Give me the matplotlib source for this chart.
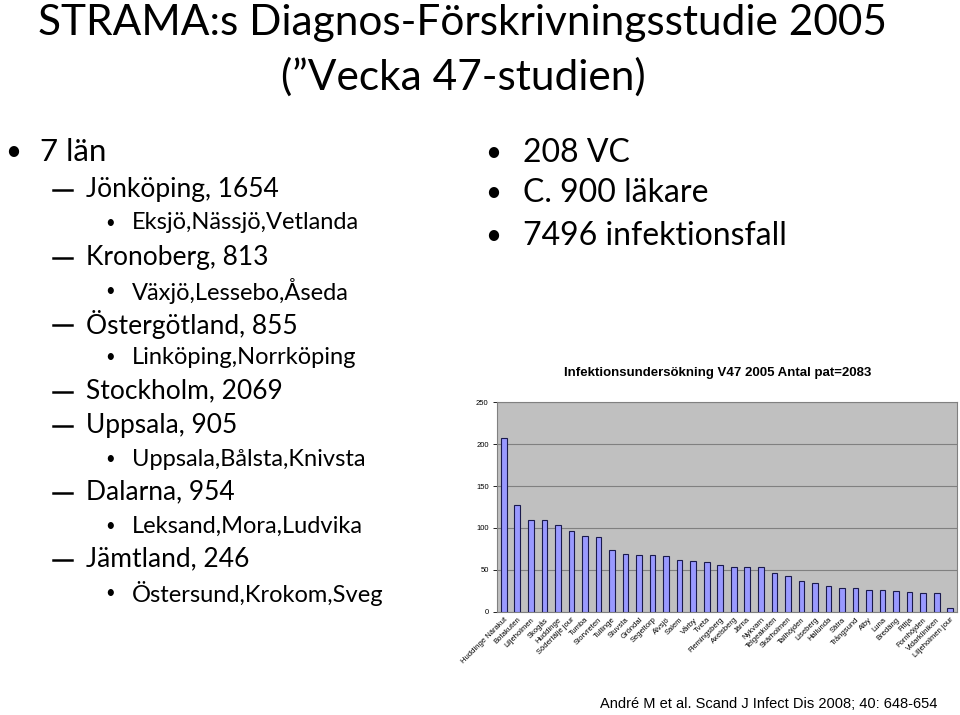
import matplotlib
matplotlib.use("Agg")
import matplotlib.pyplot as plt
from matplotlib.lines import Line2D

categories = ["Huddinge Närakut", "Botakuten", "Liljeholmen", "Skogås", "Huddinge",
              "Södertälje jour", "Tumba", "Storvreten", "Tullinge", "Stuvsta", "Gröndal",
              "Segeltorp", "Älvsjö", "Salem", "Vårby", "Tveta", "Flemingsberg", "Axelsberg",
              "Järna", "Nykvarn", "Telgeakuten", "Skärholmen", "Tallhöjden", "Liseberg",
              "Hallunda", "Sätra", "Trångsund", "Alby", "Luna", "Bredäng", "Fittja",
              "Fornhöjden", "Vidarkliniken", "Liljeholmen jour"]
values = [207, 127, 110, 109, 104, 97, 91, 89, 74, 69, 68, 68, 67, 62, 61, 59, 56, 54,
          54, 54, 47, 43, 37, 35, 31, 29, 29, 26, 26, 25, 24, 23, 23, 5]
yticks = [0, 50, 100, 150, 200, 250]

W, H = 960, 715
fig = plt.figure(figsize=(9.6, 7.15), dpi=100)
FONT = "Lato"

def T(x, y, s, size, **kw):
    fig.text(x / W, 1 - y / H, s, fontsize=size, family=kw.pop("family", FONT),
             va=kw.pop("va", "center"), ha=kw.pop("ha", "left"), **kw)

# Title
T(463, 35, "STRAMA:s Diagnos-Förskrivningsstudie 2005", 30.5, ha="center", va="baseline")
T(463, 90, "(”Vecka 47-studien)", 30.5, ha="center", va="baseline")

# Left column
left_items = [
    (1, "7 län", 152),
    (2, "Jönköping, 1654", 189),
    (3, "Eksjö,Nässjö,Vetlanda", 223),
    (2, "Kronoberg, 813", 257),
    (3, "Växjö,Lessebo,Åseda", 291),
    (2, "Östergötland, 855", 324),
    (3, "Linköping,Norrköping", 357),
    (2, "Stockholm, 2069", 391),
    (2, "Uppsala, 905", 425),
    (3, "Uppsala,Bålsta,Knivsta", 459),
    (2, "Dalarna, 954", 492),
    (3, "Leksand,Mora,Ludvika", 526),
    (2, "Jämtland, 246", 559),
    (3, "Östersund,Krokom,Sveg", 593),
]
for lvl, s, y in left_items:
    if lvl == 1:
        T(5, y, "•", 20)
        T(40, y, s, 22.5)
    elif lvl == 2:
        fig.add_artist(Line2D([53 / W, 72 / W], [1 - (y + 1) / H] * 2,
                              color="black", linewidth=1.8))
        T(86, y, s, 19)
    else:
        T(105, y, "•", 12)
        T(132, y, s, 17)

# Right column bullets
for s, y in [("208 VC", 153), ("C. 900 läkare", 193), ("7496 infektionsfall", 236)]:
    T(485, y, "•", 20)
    T(523, y, s, 23)

# Bar chart
ax = fig.add_axes([497 / W, 1 - 612 / H, 460 / W, 210 / H])
ax.set_facecolor("#C0C0C0")
x = list(range(len(categories)))
ax.bar(x, values, width=0.42, color="#9999FF", edgecolor="#1a1a4d", linewidth=0.8, zorder=3)
ax.set_xlim(-0.5, len(categories) - 0.5)
ax.set_ylim(0, 250)
ax.set_yticks(yticks)
ax.set_yticklabels([str(v) for v in yticks], fontsize=5.5, family="Liberation Sans")
ax.grid(axis="y", color="#808080", linewidth=0.8, zorder=1)
ax.set_xticks(x)
ax.set_xticklabels(categories, rotation=45, ha="right", va="top", rotation_mode="anchor",
                   fontsize=5.5, family="Liberation Sans")
ax.tick_params(axis="x", length=0, pad=3)
ax.tick_params(axis="y", length=3, width=0.6, pad=3)
for sp in ["top", "right", "left", "bottom"]:
    ax.spines[sp].set_color("#808080")

T(718, 373, "Infektionsundersökning V47 2005 Antal pat=2083", 9.5, ha="center",
  family="Liberation Sans", weight="bold")

T(600, 704, "André M et al. Scand J Infect Dis 2008; 40: 648-654", 10.5,
  family="Liberation Sans")

fig.savefig("out.png", dpi=100, facecolor="white")
